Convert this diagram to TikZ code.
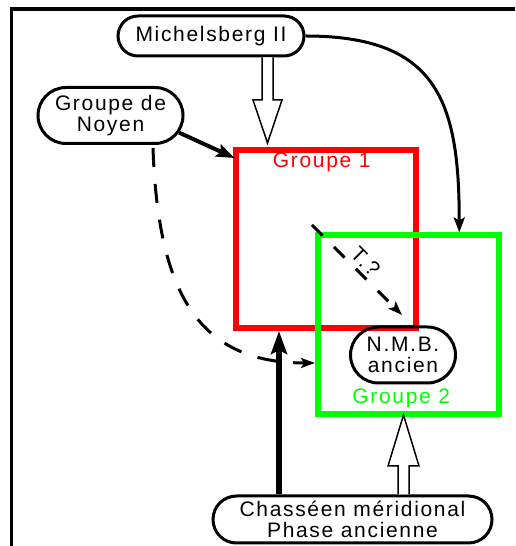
\documentclass[tikz,border=0pt]{standalone}
\usepackage{fontspec}
\setmainfont{Liberation Sans}[LetterSpace=8]
\usepackage{xcolor}
\definecolor{cRed}{HTML}{FF0000}
\definecolor{cGreen}{HTML}{00FF00}
\usepackage{tikz}
\usetikzlibrary{positioning,arrows.meta,calc,shapes.misc}
\tikzset{
  node-pill/.style={draw,line width=3pt,rounded rectangle,inner sep=0pt,align=center},
  node-group/.style={draw,line width=6pt,rectangle,inner sep=0pt},
  arrow/.style={-{Stealth[length=15pt,width=11pt,inset=3pt]},line width=3pt},
  arrow-bold/.style={-{Stealth[length=18pt,width=13pt,inset=3pt]},line width=4pt},
  arrow-heavy/.style={-{Stealth[length=23pt,width=16pt,inset=4pt]},line width=6pt},
  arrow-dashed/.style={-{Stealth[length=14pt,width=10pt,inset=3pt]},line width=3pt,dash pattern=on 19pt off 17pt},
  arrow-hollow/.style={draw,fill=white,line width=1.5pt,line join=miter},
}
\begin{document}
\begin{tikzpicture}[x=1pt,y=1pt,every node/.append style={font=\fontsize{21}{21}\selectfont}]
  \useasboundingbox (0,0) rectangle (515,546);
  \draw[line width=3.5pt] (11.5,0) -- (11.5,537) -- (515,537);
  % groups: red first, green on top
  \node[node-group,draw=cRed,minimum width=180.5pt,minimum height=178pt] (g1) at (325.75,307) {};
  \node[node-group,draw=cGreen,minimum width=180.5pt,minimum height=179pt] (g2) at (408.25,221) {};
  \node[text=cRed,inner sep=0pt,below=6pt of g1.north,xshift=-4pt] (g1-label) {Groupe 1};
  \node[text=cGreen,inner sep=0pt,above=9pt of g2.south,xshift=-7pt] (g2-label) {Groupe 2};
  \node[node-pill,minimum width=186pt,minimum height=40pt] (mich) at (211,510) {Michelsberg II};
  \node[node-pill,minimum width=145pt,minimum height=56pt] (noyen) at (110.5,430.5) {Groupe de\\Noyen};
  \node[node-pill,minimum width=105pt,minimum height=56pt] (nmb) at (403,191) {N.M.B.\\ancien};
  \node[node-pill,minimum width=279pt,minimum height=47pt] (chas) at (352.5,26.5) {Chasséen méridional\\Phase ancienne};
  \coordinate (t-from) at (312,321);
  \coordinate (t-to) at (402,231);
  \coordinate (up-x) at (279,0);
  \draw[arrow] (mich.east) to[out=0,in=90,looseness=1.35] ($(g2.north)+(51pt,0)$);
  \draw[arrow-bold] (noyen.-14) -- ($(g1.north west)+(2pt,-11pt)$);
  \draw[arrow-dashed] ($(noyen.south)+(42.5pt,-3pt)$) to[out=-88,in=180,out looseness=1.4,in looseness=1.1] ($(g2.west)+(0,-38pt)$);
  \draw[arrow-dashed,dash pattern=on 15pt off 16pt] (t-from) -- node[sloped,above] {T.?} (t-to);
  \draw[arrow-heavy] (chas.north -| up-x) -- (g1.south -| up-x);
  \draw[arrow-hollow] let \p1=(mich.south), \p2=(g1.north) in
    (262pt,\y1) -- (262pt,446pt) -- (253pt,446pt) -- (267.5pt,\y2+4pt) -- (282pt,446pt) -- (273pt,446pt) -- (273pt,\y1);
  \draw[arrow-hollow] let \p1=(chas.north), \p2=(g2.south) in
    (398pt,\y1) -- (398pt,80pt) -- (388pt,80pt) -- (403.5pt,\y2+2.5pt) -- (419pt,80pt) -- (409pt,80pt) -- (409pt,\y1);
\end{tikzpicture}
\end{document}
